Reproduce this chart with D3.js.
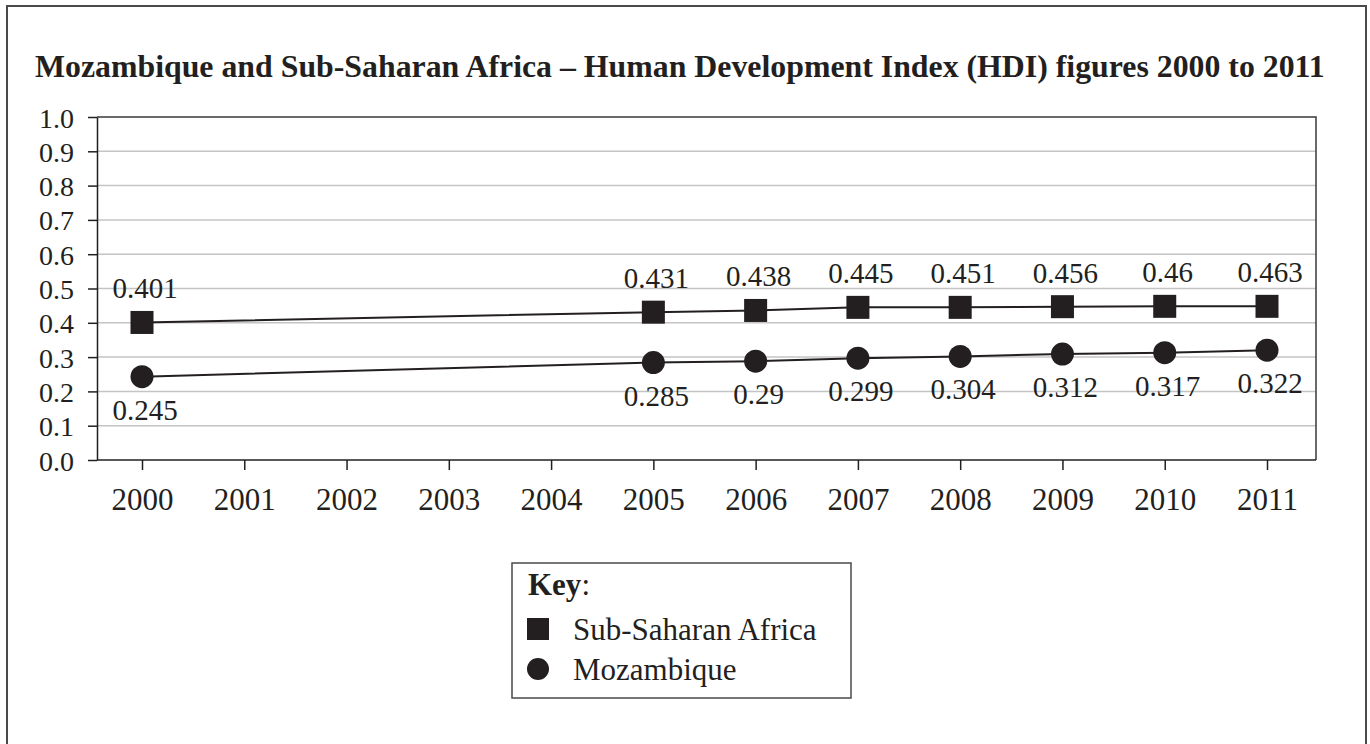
<!DOCTYPE html>
<html>
<head>
<meta charset="utf-8">
<script src="https://cdn.jsdelivr.net/npm/d3@7"></script>
<style>
  html, body { margin: 0; padding: 0; background: #fff; }
  svg { display: block; font-family: "Liberation Serif", "Times New Roman", serif; }
  .grid line { stroke: #c4c4c4; stroke-width: 1.5; }
  .axis text { fill: #231f20; font-family: "Liberation Serif", "Times New Roman", serif; }
  .axis path, .axis line { stroke: #231f20; stroke-width: 1.5; }
</style>
</head>
<body>
<svg id="chart" width="1370" height="744"></svg>
<script>
// ── Data ──
const axisYears = [2000, 2001, 2002, 2003, 2004, 2005, 2006, 2007, 2008, 2009, 2010, 2011];
const pointYears = [2000, 2005, 2006, 2007, 2008, 2009, 2010, 2011];

// plotted positions
const ssaValues = [0.401, 0.431, 0.436, 0.445, 0.445, 0.447, 0.448, 0.448];
const mozValues = [0.243, 0.284, 0.288, 0.297, 0.302, 0.309, 0.313, 0.320];

// printed data labels
const ssaLabels = ["0.401", "0.431", "0.438", "0.445", "0.451", "0.456", "0.46", "0.463"];
const mozLabels = ["0.245", "0.285", "0.29", "0.299", "0.304", "0.312", "0.317", "0.322"];

const yTicks = [0, 0.1, 0.2, 0.3, 0.4, 0.5, 0.6, 0.7, 0.8, 0.9, 1.0];
const seriesNames = ["Sub-Saharan Africa", "Mozambique"];
const titleText = "Mozambique and Sub-Saharan Africa \u2013 Human Development Index (HDI) figures 2000 to 2011";

const ink = "#231f20";

// ── Layout ──
const svg = d3.select("#chart");
const plot = { left: 97, right: 1316, top: 117, bottom: 460 };

// outer frame (bottom edge falls outside the picture)
svg.append("rect")
  .attr("x", 7).attr("y", 6)
  .attr("width", 1359).attr("height", 760)
  .attr("fill", "none")
  .attr("stroke", "#4a4a4a")
  .attr("stroke-width", 2);

// title, fitted to its width in the reference
const title = svg.append("text")
  .attr("x", 35).attr("y", 77)
  .attr("font-weight", "bold")
  .attr("font-size", 100)
  .attr("fill", ink)
  .text(titleText);
const titleW = title.node().getComputedTextLength();
title.attr("font-size", 100 * 1290 / titleW);

// ── Scales ──
const x = d3.scalePoint().domain(axisYears).range([142, 1267]);
const y = d3.scaleLinear().domain([0, 1]).range([plot.bottom, plot.top]);

// gridlines
svg.append("g").attr("class", "grid")
  .selectAll("line")
  .data(yTicks.slice(1, -1))
  .join("line")
  .attr("x1", plot.left).attr("x2", plot.right)
  .attr("y1", d => y(d)).attr("y2", d => y(d));

// plot frame: top and right
svg.append("path")
  .attr("d", `M${plot.left},${plot.top}H${plot.right}V${plot.bottom}`)
  .attr("fill", "none")
  .attr("stroke", "#3a3a3a")
  .attr("stroke-width", 1.5);

// y axis
const yAxis = svg.append("g").attr("class", "axis")
  .attr("transform", `translate(${plot.left},0)`)
  .call(d3.axisLeft(y).tickValues(yTicks).tickFormat(d3.format(".1f"))
    .tickSize(9).tickSizeOuter(0).tickPadding(14));
yAxis.attr("font-family", null).attr("font-size", 28);
yAxis.selectAll("text").attr("dy", "0.36em");

// x axis
const xAxis = svg.append("g").attr("class", "axis")
  .attr("transform", `translate(0,${plot.bottom})`)
  .call(d3.axisBottom(x).tickSize(10).tickSizeOuter(0).tickPadding(18));
xAxis.attr("font-family", null).attr("font-size", 31);
xAxis.select(".domain").attr("d", `M${plot.left},0H${plot.right}`);
xAxis.selectAll("text").attr("dy", "0.71em");

// ── Series ──
const line = d3.line().x(d => x(d.year)).y(d => y(d.value));
const ssa = pointYears.map((yr, i) => ({ year: yr, value: ssaValues[i], label: ssaLabels[i] }));
const moz = pointYears.map((yr, i) => ({ year: yr, value: mozValues[i], label: mozLabels[i] }));

[ssa, moz].forEach(s => {
  svg.append("path")
    .datum(s)
    .attr("d", line)
    .attr("fill", "none")
    .attr("stroke", ink)
    .attr("stroke-width", 2);
});

const sq = 23;
svg.append("g").selectAll("rect")
  .data(ssa)
  .join("rect")
  .attr("x", d => x(d.year) - sq / 2)
  .attr("y", d => y(d.value) - sq / 2)
  .attr("width", sq).attr("height", sq)
  .attr("fill", ink);

svg.append("g").selectAll("circle")
  .data(moz)
  .join("circle")
  .attr("cx", d => x(d.year))
  .attr("cy", d => y(d.value))
  .attr("r", 11.5)
  .attr("fill", ink);

// data labels
svg.append("g").selectAll("text")
  .data(ssa)
  .join("text")
  .attr("x", d => x(d.year) + 3)
  .attr("y", d => y(d.value) - 24)
  .attr("text-anchor", "middle")
  .attr("font-size", 29)
  .attr("fill", ink)
  .text(d => d.label);

svg.append("g").selectAll("text")
  .data(moz)
  .join("text")
  .attr("x", d => x(d.year) + 3)
  .attr("y", d => y(d.value) + 43)
  .attr("text-anchor", "middle")
  .attr("font-size", 29)
  .attr("fill", ink)
  .text(d => d.label);

// ── Key ──
const key = svg.append("g").attr("transform", "translate(512,563)");
key.append("rect")
  .attr("width", 339).attr("height", 135)
  .attr("fill", "none")
  .attr("stroke", "#4a4a4a")
  .attr("stroke-width", 1.5);

const keyTitle = key.append("text")
  .attr("x", 16).attr("y", 32)
  .attr("font-size", 31)
  .attr("fill", ink);
keyTitle.append("tspan").attr("font-weight", "bold").text("Key");
keyTitle.append("tspan").text(":");

const keyRows = key.selectAll(".key-row")
  .data(seriesNames)
  .join("g")
  .attr("class", "key-row")
  .attr("transform", (d, i) => `translate(0,${66 + i * 40})`);

keyRows.filter((d, i) => i === 0).append("rect")
  .attr("x", 15).attr("y", -11)
  .attr("width", 22).attr("height", 22)
  .attr("fill", ink);
keyRows.filter((d, i) => i === 1).append("circle")
  .attr("cx", 26).attr("cy", 0)
  .attr("r", 11)
  .attr("fill", ink);

keyRows.append("text")
  .attr("x", 61).attr("y", 11)
  .attr("font-size", 31)
  .attr("fill", ink)
  .text(d => d);
</script>
</body>
</html>
